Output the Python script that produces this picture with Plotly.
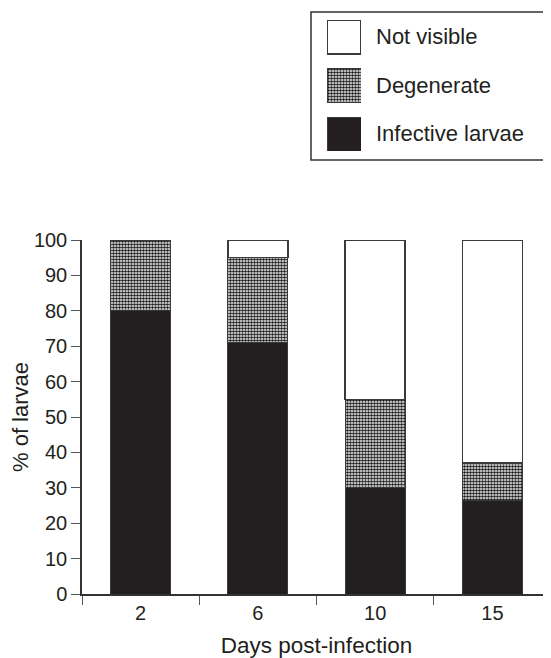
import plotly.graph_objects as go

# page is rendered with an 8px body margin, so the figure is 8px smaller and offsets are shifted
OFF = 8
W, H = 551 - OFF, 658 - OFF

days = ["2", "6", "10", "15"]
infective = [80, 71, 30, 26.5]
degenerate = [20, 24, 25, 10.5]
not_visible = [0, 5, 45, 63]

series_names = ["Not visible", "Degenerate", "Infective larvae"]
y_ticks = [0, 10, 20, 30, 40, 50, 60, 70, 80, 90, 100]

BLACK = "#231f20"
EDGE = "#3a3a3a"
pattern_deg = dict(shape=".", size=3, solidity=0.6, fgcolor="#1a1a1a", bgcolor="white", fillmode="replace")

styles = {
    "Infective larvae": dict(color=BLACK, line=dict(color=EDGE, width=1)),
    "Degenerate": dict(color="white", pattern=pattern_deg, line=dict(color=EDGE, width=1)),
    "Not visible": dict(color="white", line=dict(color=EDGE, width=1.5)),
}

fig = go.Figure()
for name, vals in [("Infective larvae", infective), ("Degenerate", degenerate), ("Not visible", not_visible)]:
    fig.add_trace(go.Bar(x=days, y=vals, name=name, marker=styles[name], width=0.51,
                         showlegend=False, xaxis="x", yaxis="y"))

# page pixel -> paper helpers (layout only)
def px_x(p):
    return (p - OFF) / W
def px_y(p):
    return 1 - (p - OFF) / H

# custom legend swatches drawn as bars on a hidden axis
sw_top, sw_size, sw_step = 20, 34, 48.5
for i, name in enumerate(series_names):
    fig.add_trace(go.Bar(x=[0], y=[sw_size], base=[i * sw_step], marker=styles[name], width=1,
                         showlegend=False, xaxis="x2", yaxis="y2", hoverinfo="skip"))
    fig.add_annotation(xref="paper", yref="paper", x=px_x(374), y=px_y(sw_top + i * sw_step + sw_size / 2),
                       text=name, showarrow=False, xanchor="left", yanchor="middle",
                       font=dict(family="Liberation Sans, Arial", size=22, color="#231f20"))

span = 2 * sw_step + sw_size
fig.add_shape(type="rect", xref="paper", yref="paper", x0=px_x(311), x1=px_x(548), y0=px_y(160), y1=px_y(12),
              line=dict(color="#333", width=1.5), fillcolor="rgba(0,0,0,0)", layer="below")

plot_left, plot_top, plot_bottom = 82, 240, 594

fig.update_layout(
    width=W, height=H,
    margin=dict(l=0, r=0, t=0, b=0),
    paper_bgcolor="white", plot_bgcolor="white",
    barmode="stack", bargap=0.49,
    font=dict(family="Liberation Sans, Arial", color="#231f20"),
    xaxis=dict(domain=[px_x(plot_left), 1], type="category", range=[-0.5, 3.5],
               showline=True, linecolor="#333", linewidth=1.5, ticks="outside", tickson="boundaries",
               ticklen=9, tickcolor="#555", tickwidth=1.2, showgrid=False, zeroline=False,
               tickfont=dict(size=20), automargin=False,
               title=dict(text="Days post-infection", font=dict(size=22.5), standoff=17)),
    yaxis=dict(domain=[px_y(plot_bottom), px_y(plot_top)], range=[0, 100], tickvals=y_ticks,
               showline=True, linecolor="#333", linewidth=1.5, ticks="outside", ticklen=9,
               tickcolor="#555", tickwidth=1.2, showgrid=False, zeroline=False,
               tickfont=dict(size=20), automargin=False,
               title=dict(text="% of larvae", font=dict(size=22), standoff=6)),
    xaxis2=dict(domain=[px_x(327), px_x(361)], range=[-0.5, 0.5], visible=False, anchor="y2", fixedrange=True),
    yaxis2=dict(domain=[px_y(sw_top + span), px_y(sw_top)], range=[span, 0], visible=False, anchor="x2", fixedrange=True),
)

fig.write_html("out.html")
